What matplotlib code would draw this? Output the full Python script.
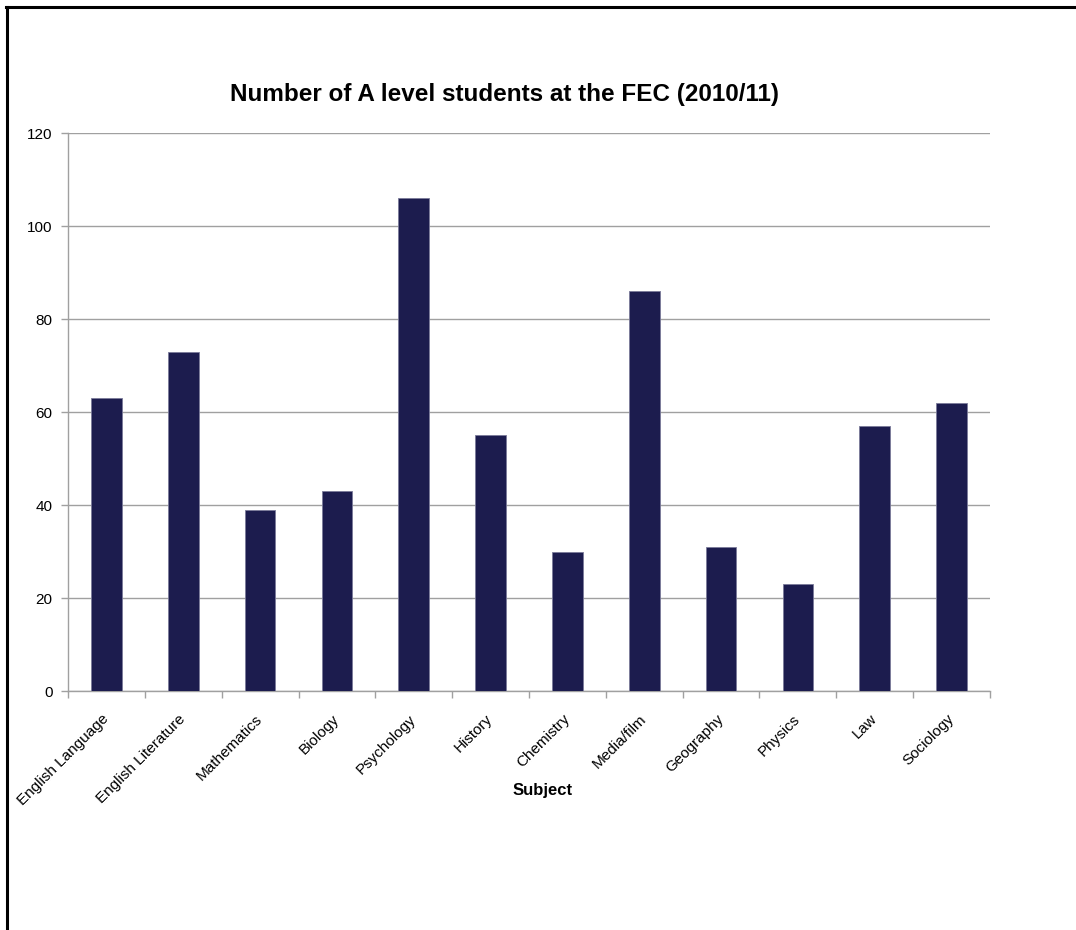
import matplotlib
matplotlib.use("Agg")
import matplotlib.pyplot as plt
from matplotlib.lines import Line2D
from matplotlib.transforms import ScaledTranslation

categories = ["English Language", "English Literature", "Mathematics", "Biology",
              "Psychology", "History", "Chemistry", "Media/film", "Geography",
              "Physics", "Law", "Sociology"]
values = [63, 73, 39, 43, 106, 55, 30, 86, 31, 23, 57, 62]
y_ticks = [0, 20, 40, 60, 80, 100, 120]
title = "Number of A level students at the FEC (2010/11)"
x_label = "Subject"

plt.rcParams['font.family'] = ['Liberation Sans', 'DejaVu Sans']

W, H = 1076, 930
fig = plt.figure(figsize=(W / 100, H / 100), dpi=100)
ax = fig.add_axes([68 / W, 1 - 691 / H, (990 - 68) / W, (691 - 133) / H])

x = list(range(len(categories)))
ax.bar(x, values, width=0.4, color="#1c1c4e", edgecolor="#7a7a9a", linewidth=0.6, zorder=3)
ax.set_xlim(-0.5, len(categories) - 0.5)
ax.set_ylim(0, 120)
ax.set_yticks(y_ticks)
ax.set_yticklabels([str(v) for v in y_ticks], fontsize=11)
ax.yaxis.grid(True, color="#a0a0a0", linewidth=1.0, zorder=0)
ax.set_axisbelow(True)

# x ticks at category boundaries, labels at centers
ax.set_xticks([i - 0.5 for i in range(len(categories) + 1)])
ax.set_xticklabels([])
ax.set_xticks(x, minor=True)
ax.set_xticklabels(categories, minor=True, rotation=45, ha="right", va="top",
                   rotation_mode="anchor", fontsize=11)
ax.tick_params(axis="x", which="minor", length=0, pad=15)
ax.tick_params(axis="x", which="major", length=5, color="#a0a0a0", width=1)
ax.tick_params(axis="y", length=5, color="#a0a0a0", width=1, pad=6)
shift = ScaledTranslation(-0.05, 0, fig.dpi_scale_trans)
for lab in ax.get_xticklabels(minor=True):
    lab.set_transform(lab.get_transform() + shift)

for s in ["top", "right"]:
    ax.spines[s].set_visible(False)
for s in ["left", "bottom"]:
    ax.spines[s].set_color("#a0a0a0")
    ax.spines[s].set_linewidth(1.0)

fig.text(505 / W, 1 - 95 / H, title, ha="center", va="center",
         fontsize=17.5, fontweight="bold")
fig.text(543 / W, 1 - 790 / H, x_label, ha="center", va="center",
         fontsize=12, fontweight="bold")

# border lines at left and top of the figure
fig.add_artist(Line2D([7 / W, 7 / W], [0, 1 - 7 / H], transform=fig.transFigure,
                      color="black", linewidth=2.2))
fig.add_artist(Line2D([6 / W, 1], [1 - 7.5 / H, 1 - 7.5 / H], transform=fig.transFigure,
                      color="black", linewidth=2.2))

fig.savefig("out.png", dpi=100)
